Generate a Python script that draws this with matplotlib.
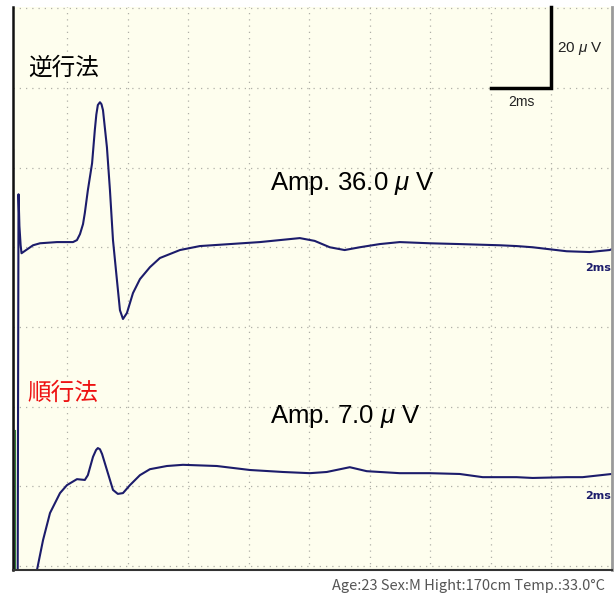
"""Nerve conduction traces (antidromic / orthodromic) on an oscilloscope-style grid."""

import matplotlib
matplotlib.use("Agg")
import matplotlib.pyplot as plt
import numpy as np

plt.rcParams["font.family"] = ["Noto Sans CJK JP", "DejaVu Sans"]
plt.rcParams["mathtext.fontset"] = "custom"
plt.rcParams["mathtext.it"] = "Liberation Sans:italic"

# trace 1 (逆行法): time in ms, amplitude in uV relative to its baseline
anti_t = [-1.78, -1.77, -1.63, -1.60, -1.57, -1.53, -1.50, -1.35, -1.12, -0.89,
          -0.33, 0.00, 0.20, 0.33, 0.43, 0.53, 0.59, 0.69, 0.83, 0.92,
          0.97, 1.02, 1.09, 1.14, 1.19, 1.32, 1.42, 1.52, 1.65, 1.75,
          1.85, 1.98, 2.18, 2.41, 2.74, 3.07, 3.73, 4.39, 5.38, 6.37,
          7.03, 7.69, 8.18, 8.68, 9.17, 9.67, 10.33, 10.99, 11.98, 12.97,
          14.29, 14.85, 15.38, 15.94, 16.50, 17.26, 17.92, 17.99]
anti_v = [23.1, -94.9, -94.9, 12.0, 4.0, -0.8, -2.8, -2.0, -0.8, -0.3,
          0.0, 0.0, 0.0, 0.5, 2.0, 4.5, 7.3, 13.0, 19.8, 28.1,
          32.0, 34.4, 35.1, 34.6, 33.1, 23.8, 13.0, 0.5, -9.5, -17.1,
          -19.3, -17.8, -12.8, -9.3, -6.3, -4.0, -2.0, -1.0, -0.5, 0.0,
          0.5, 1.0, 0.3, -1.3, -2.0, -1.3, -0.5, 0.0, -0.3, -0.5,
          -0.8, -1.0, -1.3, -1.8, -2.3, -2.5, -2.0, -1.8]

# trace 2 (順行法)
ortho_t = [-1.78, -1.75, -1.02, -0.99, -0.79, -0.56, -0.23, 0.00, 0.33, 0.59,
           0.69, 0.86, 0.96, 1.02, 1.09, 1.16, 1.32, 1.52, 1.68, 1.85,
           2.08, 2.41, 2.74, 3.30, 3.83, 4.95, 6.04, 7.13, 8.02, 8.58,
           9.34, 9.90, 10.99, 11.98, 12.97, 13.73, 14.85, 15.38, 16.50, 17.03,
           17.99]
ortho_v = [9.0, -38.6, -38.6, -26.1, -18.6, -11.8, -6.8, -4.8, -3.3, -3.5,
           -2.3, 2.3, 4.0, 4.5, 4.2, 3.0, -1.0, -6.0, -7.0, -6.8,
           -4.8, -2.3, -0.8, 0.0, 0.3, 0.0, -1.0, -1.5, -1.8, -1.5,
           -0.3, -1.3, -1.8, -1.8, -2.0, -2.8, -2.8, -3.0, -2.8, -2.8,
           -2.0]

# green stimulus marker on trace 2
marker_t = [-1.70, -1.70]
marker_v = [9.0, -38.6]

labels = ["逆行法", "順行法"]
amp_labels = [r"Amp. 36.0 $\mu$ V", r"Amp. 7.0 $\mu$ V"]
footer = "Age:23 Sex:M Hight:170cm Temp.:33.0°C"

# layout: vertical placement of each trace's baseline (uV on the screen)
OFFSETS = [81.3, 25.1]
TRACE_COLOR = "#1c1c6b"

fig = plt.figure(figsize=(6.14, 5.95), dpi=100)
ax = fig.add_axes([13 / 614, 25 / 595, 599 / 614, 563 / 595])
ax.set_facecolor("#fefeee")
ax.set_xlim(-1.782, 18.0)
ax.set_ylim(-1.0, 140.3)

ax.set_xticks(np.arange(0, 19, 2))
ax.set_yticks(np.arange(0, 141, 20))
ax.grid(True, color="#b0b0a8", linestyle=(0, (1, 4)), linewidth=0.9)
ax.tick_params(length=0, labelbottom=False, labelleft=False)
ax.spines["top"].set_visible(False)
ax.spines["left"].set_color("#111111")
ax.spines["left"].set_linewidth(1.8)
ax.spines["bottom"].set_color("#333333")
ax.spines["bottom"].set_linewidth(1.5)
ax.spines["right"].set_color("#9a9a9a")
ax.spines["right"].set_linewidth(2.0)

ax.plot(anti_t, np.array(anti_v) + OFFSETS[0], color=TRACE_COLOR, lw=1.5)
ax.plot(ortho_t, np.array(ortho_v) + OFFSETS[1], color=TRACE_COLOR, lw=1.5)
ax.plot(marker_t, np.array(marker_v) + OFFSETS[1], color="#2e7d32", lw=0.8)

# scale bar: 2 ms x 20 uV
ax.plot([14.0, 16.0, 16.0], [120.0, 120.0, 140.3], color="black", lw=2.5,
        solid_joinstyle="miter", clip_on=False)
ax.text(16.2, 130, r"20 $\mu$ V", fontsize=11, color="#222222", va="center",
        ha="left", family="Liberation Sans")
ax.text(15.0, 116.5, "2ms", fontsize=10, color="#222222", va="center",
        ha="center", family="Liberation Sans")

ax.text(-1.29, 125.0, labels[0], fontsize=17, color="black", va="center", ha="left")
ax.text(-1.29, 43.4, labels[1], fontsize=17, color="#ee1111", va="center", ha="left")
for y, txt in zip((96.1, 37.6), amp_labels):
    ax.text(6.70, y, txt, fontsize=18.5, color="black", va="center", ha="left",
            family="Liberation Sans")

for y in (74.8, 17.6):
    ax.text(17.97, y, "2ms", fontsize=8, fontweight="bold", color=TRACE_COLOR,
            va="center", ha="right", family="DejaVu Sans")

fig.text(605 / 614, 1 - 586 / 595, footer, fontsize=10.5, color="#555555",
         ha="right", va="center")

fig.savefig("out.png", dpi=100)
